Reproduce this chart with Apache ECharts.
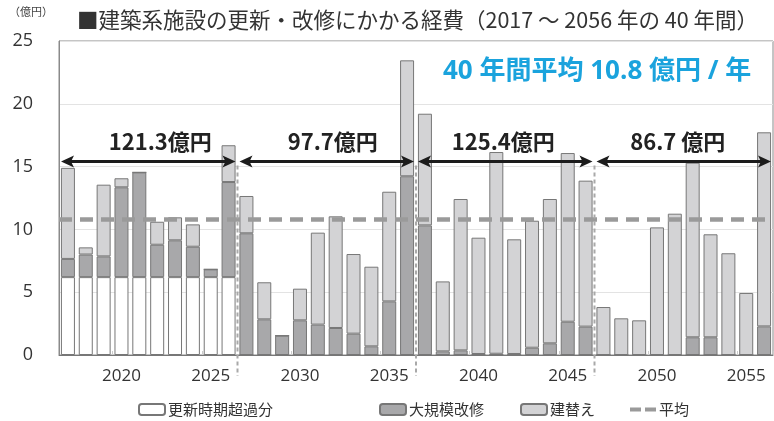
<!DOCTYPE html>
<html>
<head>
<meta charset="utf-8">
<script src="https://cdn.jsdelivr.net/npm/echarts@6/dist/echarts.min.js"></script>
<style>
html,body{margin:0;padding:0;background:#fff;}
#chart{width:774px;height:421px;}
</style>
</head>
<body>
<div id="chart"></div>
<script>
// ---- data ----
const years = ['2017','2018','2019','2020','2021','2022','2023','2024','2025','2026',
               '2027','2028','2029','2030','2031','2032','2033','2034','2035','2036',
               '2037','2038','2039','2040','2041','2042','2043','2044','2045','2046',
               '2047','2048','2049','2050','2051','2052','2053','2054','2055','2056'];
const overdue = [6.2,6.2,6.2,6.2,6.2,6.2,6.2,6.2,6.2,6.2,
                 0,0,0,0,0,0,0,0,0,0,
                 0,0,0,0,0,0,0,0,0,0,
                 0,0,0,0,0,0,0,0,0,0];
const majorRepair = [1.45,1.8,1.65,7.15,8.34,2.58,2.93,2.42,0.62,7.57,
                     9.69,2.84,1.54,2.76,2.42,2.15,1.7,0.69,4.27,14.23,
                     10.32,0.29,0.37,0.08,0.1,0.08,0.58,0.93,2.65,2.26,
                     0,0,0,0,0,1.41,1.41,0,0,2.28];
const rebuild = [7.25,0.57,5.71,0.72,0,1.83,1.83,1.78,0,2.93,
                 2.97,2.95,0,2.52,7.32,8.89,6.34,6.34,8.73,9.23,
                 8.89,5.57,12.05,9.26,16.06,9.13,10.11,11.49,13.43,11.62,
                 3.82,2.92,2.76,10.16,11.25,13.9,8.2,8.1,4.94,15.45];
const average = 10.8;
const sectionStart = [0, 10, 20, 30];
const sectionEnd = [9, 19, 29, 39];
const sectionLabels = ['121.3億円', '97.7億円', '125.4億円', '86.7 億円'];
const yTicks = [0, 5, 10, 15, 20, 25];
const seriesNames = ['更新時期超過分', '大規模改修', '建替え', '平均'];

// ---- styling ----
const FONT = "'Open Sans','Noto Sans CJK JP',sans-serif";
const JFONT = "'Noto Sans CJK JP','Open Sans',sans-serif";
const ARROW_LEVEL = 15.4;
const labelShift = [12, 6, -2, -6];

const chart = echarts.init(document.getElementById('chart'), null, {renderer: 'canvas'});

function renderSections(params, api) {
  const i = params.dataIndex;
  const s = api.value(0), e = api.value(1);
  const band = api.size([1, 0])[0];
  const pS = api.coord([s, ARROW_LEVEL]);
  const pE = api.coord([e, ARROW_LEVEL]);
  const y = pS[1];
  const left = pS[0] - band / 2 + 2;
  const right = pE[0] + band / 2 - 2;
  const base = api.coord([s, 0])[1];
  const col = '#1c1c1c';
  const children = [
    {type: 'line', shape: {x1: left + 8, y1: y, x2: right - 8, y2: y},
     style: {stroke: col, lineWidth: 3}},
    {type: 'polygon', shape: {points: [[left, y], [left + 13, y - 6], [left + 10, y], [left + 13, y + 6]]},
     style: {fill: col}},
    {type: 'polygon', shape: {points: [[right, y], [right - 13, y - 6], [right - 10, y], [right - 13, y + 6]]},
     style: {fill: col}},
    {type: 'text', style: {text: sectionLabels[i], x: (left + right) / 2 + labelShift[i], y: y - 20,
      align: 'center', verticalAlign: 'middle', fill: '#222',
      font: "bold 22px " + JFONT}}
  ];
  if (i < sectionStart.length - 1) {
    const bx = pE[0] + band / 2;
    children.push({type: 'line', shape: {x1: bx, y1: y + 4, x2: bx, y2: base + 21},
      style: {stroke: '#a9a9a9', lineWidth: 2, lineDash: [4, 3]}});
  }
  return {type: 'group', children: children};
}

const option = {
  backgroundColor: '#fff',
  animation: false,
  title: {
    text: '■建築系施設の更新・改修にかかる経費（2017 ～ 2056 年の 40 年間）',
    left: 72, top: 4,
    textStyle: {fontFamily: JFONT, fontWeight: 'normal', fontSize: 21.5, color: '#333'}
  },
  graphic: [
    {type: 'text', left: 9, top: 6, style: {text: '（億円）', font: "11px " + JFONT, fill: '#444'}},
    {type: 'text', left: 443, top: 59, style: {text: '40 年間平均 10.8 億円 / 年',
      font: "bold 26px " + FONT, fill: '#1aa3dd'}}
  ],
  legend: [
    {data: [seriesNames[0]], left: 133, top: 397},
    {data: [seriesNames[1]], left: 374, top: 397},
    {data: [seriesNames[2]], left: 515, top: 397},
    {data: [{name: seriesNames[3], icon: 'path://M0,0 H11 V4 H0 Z M15,0 H26 V4 H15 Z'}], left: 625, top: 397, itemHeight: 5}
  ].map(l => Object.assign({
    itemWidth: 26, itemHeight: 11, itemGap: 4, selectedMode: false,
    textStyle: {fontFamily: JFONT, fontSize: 15, color: '#333', padding: [0, 0, 0, -2]}
  }, l)),
  grid: {left: 59, right: 1, top: 41, bottom: 66, show: true, borderColor: '#8a8a8a', borderWidth: 1, backgroundColor: 'transparent'},
  xAxis: {
    type: 'category', data: years,
    axisLine: {lineStyle: {color: '#777', width: 1}},
    axisTick: {show: true, inside: true, length: 4, lineStyle: {color: '#ccc'}},
    axisLabel: {interval: (idx, val) => Number(val) % 5 === 0, margin: 13,
      fontFamily: FONT, fontSize: 17, color: '#333'}
  },
  yAxis: {
    type: 'value', min: yTicks[0], max: yTicks[yTicks.length - 1], interval: yTicks[1] - yTicks[0],
    axisLine: {show: true, lineStyle: {color: '#8a8a8a'}},
    axisTick: {show: false},
    axisLabel: {margin: 26, fontFamily: FONT, fontSize: 18, color: '#333'},
    splitLine: {lineStyle: {color: '#e3e3e3', width: 1}}
  },
  series: [
    {name: seriesNames[0], type: 'bar', stack: 'c', data: overdue, barWidth: 14,
     itemStyle: {color: '#ffffff', borderColor: '#777', borderWidth: 1}},
    {name: seriesNames[1], type: 'bar', stack: 'c', data: majorRepair, barWidth: 14,
     itemStyle: {color: '#a8a8aa', borderColor: '#777', borderWidth: 1}},
    {name: seriesNames[2], type: 'bar', stack: 'c', data: rebuild, barWidth: 14,
     itemStyle: {color: '#d3d3d5', borderColor: '#777', borderWidth: 1}},
    {name: seriesNames[3], type: 'line', data: [], color: '#9a9a9a', symbol: 'none',
     lineStyle: {color: '#9a9a9a'}, itemStyle: {color: '#9a9a9a'},
     markLine: {symbol: 'none', silent: true, label: {show: false},
       lineStyle: {color: '#9a9a9a', width: 4.5, type: [13, 8]},
       data: [{yAxis: average}]}, z: 4},
    {type: 'custom', name: 'sections', renderItem: renderSections, z: 6, silent: true,
     data: sectionStart.map((s, i) => [s, sectionEnd[i]])}
  ]
};
chart.setOption(option);
</script>
</body>
</html>
